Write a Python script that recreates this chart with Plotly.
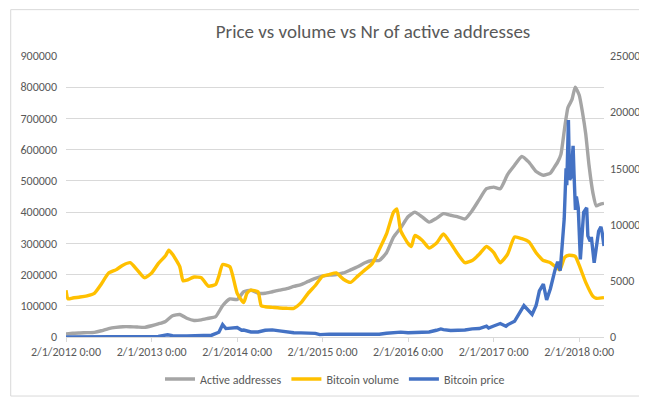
import plotly.graph_objects as go

# ---------------- data ----------------
addr_dates = [
    "2012-02-01", "2012-03-01", "2012-04-01", "2012-05-01", "2012-06-01", "2012-07-01",
    "2012-08-01", "2012-09-01", "2012-10-01", "2012-11-01", "2012-12-01", "2013-01-01",
    "2013-02-01", "2013-03-01", "2013-04-01", "2013-05-01", "2013-06-01", "2013-07-01",
    "2013-08-01", "2013-09-01", "2013-10-01", "2013-11-01", "2013-12-01", "2014-01-01",
    "2014-02-01", "2014-03-01", "2014-04-01", "2014-05-01", "2014-06-01", "2014-07-01",
    "2014-08-01", "2014-09-01", "2014-10-01", "2014-11-01", "2014-12-01", "2015-01-01",
    "2015-02-01", "2015-03-01", "2015-04-01", "2015-05-01", "2015-06-01", "2015-07-01",
    "2015-08-01", "2015-09-01", "2015-10-01", "2015-11-01", "2015-12-01", "2016-01-01",
    "2016-02-01", "2016-03-01", "2016-04-01", "2016-05-01", "2016-06-01", "2016-07-01",
    "2016-08-01", "2016-09-01", "2016-10-01", "2016-11-01", "2016-12-01", "2017-01-01",
    "2017-02-01", "2017-03-01", "2017-04-01", "2017-05-01", "2017-06-01", "2017-07-01",
    "2017-08-01", "2017-09-01", "2017-10-01", "2017-10-15", "2017-11-01", "2017-11-15",
    "2017-12-01", "2017-12-15", "2018-01-01", "2018-01-15", "2018-02-01", "2018-02-15",
    "2018-03-01", "2018-03-15", "2018-04-01", "2018-04-15", "2018-05-01", "2018-05-18",
]
active_addresses = [
    10000, 12000, 13000, 14000, 15000, 20000,
    27000, 31000, 33000, 33000, 32000, 31000,
    36000, 42000, 50000, 68000, 72000, 60000,
    53000, 55000, 60000, 65000, 100000, 122000,
    120000, 145000, 150000, 140000, 140000, 145000,
    150000, 155000, 162000, 168000, 178000, 188000,
    195000, 198000, 200000, 205000, 215000, 225000,
    238000, 245000, 245000, 270000, 320000, 350000,
    385000, 400000, 385000, 368000, 380000, 395000,
    390000, 385000, 378000, 405000, 440000, 475000,
    480000, 475000, 520000, 550000, 578000, 560000,
    530000, 518000, 525000, 540000, 560000, 585000,
    670000, 735000, 760000, 800000, 775000, 720000,
    650000, 550000, 460000, 420000, 425000, 428000,
]

vol_dates = [
    "2012-02-01", "2012-02-10", "2012-03-01", "2012-04-01", "2012-05-01", "2012-06-01",
    "2012-07-01", "2012-08-01", "2012-09-01", "2012-10-01", "2012-11-01", "2012-12-01",
    "2013-01-01", "2013-02-01", "2013-03-01", "2013-04-01", "2013-04-15", "2013-05-01",
    "2013-06-01", "2013-06-15", "2013-07-01", "2013-08-01", "2013-09-01", "2013-10-01",
    "2013-11-01", "2013-11-15", "2013-12-01", "2014-01-01", "2014-02-01", "2014-03-01",
    "2014-03-15", "2014-04-01", "2014-05-01", "2014-05-15", "2014-06-01", "2014-07-01",
    "2014-08-01", "2014-09-01", "2014-10-01", "2014-11-01", "2014-12-01", "2015-01-01",
    "2015-02-01", "2015-03-01", "2015-04-01", "2015-05-01", "2015-06-01", "2015-07-01",
    "2015-08-01", "2015-09-01", "2015-10-01", "2015-11-01", "2015-12-01", "2015-12-15",
    "2016-01-01", "2016-02-01", "2016-02-15", "2016-03-01", "2016-04-01", "2016-05-01",
    "2016-06-01", "2016-07-01", "2016-08-01", "2016-09-01", "2016-10-01", "2016-11-01",
    "2016-12-01", "2017-01-01", "2017-02-01", "2017-03-01", "2017-04-01", "2017-05-01",
    "2017-06-01", "2017-07-01", "2017-08-01", "2017-09-01", "2017-10-01", "2017-11-10",
    "2017-12-01", "2017-12-20", "2018-01-15", "2018-02-01", "2018-03-01", "2018-04-01",
    "2018-04-15", "2018-05-18",
]
bitcoin_volume = [
    150000, 122000, 125000, 128000, 132000, 140000,
    170000, 205000, 215000, 230000, 238000, 215000,
    190000, 205000, 235000, 260000, 278000, 265000,
    225000, 180000, 182000, 192000, 190000, 163000,
    168000, 195000, 232000, 225000, 140000, 110000,
    140000, 150000, 145000, 100000, 97000, 95000,
    93000, 92000, 92000, 110000, 140000, 165000,
    195000, 200000, 205000, 185000, 175000, 195000,
    215000, 235000, 280000, 330000, 400000, 410000,
    340000, 300000, 290000, 325000, 310000, 285000,
    300000, 330000, 300000, 265000, 238000, 245000,
    265000, 290000, 270000, 238000, 265000, 320000,
    315000, 305000, 270000, 245000, 238000, 215000,
    255000, 262000, 258000, 230000, 175000, 130000,
    124000, 126000,
]

price_dates = [
    "2012-02-01", "2012-06-01", "2012-09-01", "2012-12-01", "2013-02-01", "2013-03-01",
    "2013-04-10", "2013-05-01", "2013-07-01", "2013-09-01", "2013-10-15", "2013-11-15",
    "2013-12-01", "2013-12-15", "2014-01-01", "2014-02-01", "2014-02-20", "2014-03-01",
    "2014-04-01", "2014-05-01", "2014-06-01", "2014-07-01", "2014-08-01", "2014-09-01",
    "2014-10-01", "2014-11-01", "2014-12-01", "2015-01-01", "2015-01-20", "2015-02-01",
    "2015-03-01", "2015-04-01", "2015-05-01", "2015-06-01", "2015-07-01", "2015-08-01",
    "2015-09-01", "2015-10-01", "2015-11-01", "2015-12-01", "2016-01-01", "2016-02-01",
    "2016-03-01", "2016-04-01", "2016-05-01", "2016-06-01", "2016-06-20", "2016-07-01",
    "2016-08-01", "2016-09-01", "2016-10-01", "2016-11-01", "2016-12-01", "2017-01-01",
    "2017-01-10", "2017-02-01", "2017-03-01", "2017-03-25", "2017-04-01", "2017-05-01",
    "2017-05-25", "2017-06-10", "2017-07-15", "2017-08-01", "2017-08-15", "2017-09-01",
    "2017-09-15", "2017-10-01", "2017-10-20", "2017-11-01", "2017-11-12", "2017-11-20",
    "2017-11-29", "2017-12-07", "2017-12-10", "2017-12-17", "2017-12-22", "2017-12-28",
    "2018-01-06", "2018-01-10", "2018-01-16", "2018-01-20", "2018-01-28", "2018-02-06",
    "2018-02-10", "2018-02-20", "2018-03-05", "2018-03-10", "2018-03-20", "2018-03-25",
    "2018-04-06", "2018-04-15", "2018-04-25", "2018-05-05", "2018-05-10", "2018-05-18",
]
bitcoin_price = [
    6, 6, 11, 13, 20, 60,
    200, 120, 90, 130, 160, 420,
    1100, 750, 780, 850, 600, 620,
    450, 450, 600, 630, 550, 450,
    380, 370, 330, 320, 210, 230,
    260, 240, 235, 240, 280, 260,
    235, 240, 330, 380, 430, 380,
    420, 420, 450, 600, 720, 660,
    580, 600, 620, 720, 750, 970,
    800, 980, 1200, 950, 1080, 1400,
    2300, 2800, 2000, 2800, 4100, 4700,
    3300, 4300, 5900, 6700, 5900, 8000,
    10500, 15000, 13500, 19300, 14000, 14200,
    17000, 14500, 11300, 12500, 11500, 6900,
    8300, 11100, 11500, 9000, 8500, 8900,
    6600, 8000, 9400, 9800, 9300, 8100,
]

tick_dates = ["2012-02-01", "2013-02-01", "2014-02-01", "2015-02-01",
              "2016-02-01", "2017-02-01", "2018-02-01"]
tick_labels = ["2/1/2012 0:00", "2/1/2013 0:00", "2/1/2014 0:00", "2/1/2015 0:00",
               "2/1/2016 0:00", "2/1/2017 0:00", "2/1/2018 0:00"]

# ---------------- figure ----------------
FONT = "Carlito, Lato, sans-serif"
TXT = "#595959"
GRID = "#D9D9D9"

fig = go.Figure()
fig.add_trace(go.Scatter(x=addr_dates, y=active_addresses, name="Active addresses",
                         mode="lines", line=dict(color="#A5A5A5", width=3.4, shape="spline", smoothing=0.5)))
fig.add_trace(go.Scatter(x=vol_dates, y=bitcoin_volume, name="Bitcoin volume",
                         mode="lines", line=dict(color="#FFC000", width=3.4, shape="spline", smoothing=0.5)))
fig.add_trace(go.Scatter(x=price_dates, y=bitcoin_price, name="Bitcoin price", yaxis="y2",
                         mode="lines", line=dict(color="#4472C4", width=3.4)))

L, R, T, B = 56, 51, 48, 62
W, H = 647, 398
pw, ph = W - L - R, H - T - B

fig.update_layout(
    width=W, height=H,
    margin=dict(l=L, r=R, t=T, b=B),
    paper_bgcolor="white", plot_bgcolor="white",
    font=dict(family=FONT, size=12, color=TXT),
    title=dict(text="Price vs volume vs Nr of active addresses",
               x=365 / W, xanchor="center", xref="container",
               y=1 - 23 / H, yanchor="middle", yref="container",
               font=dict(family=FONT, size=19, color=TXT)),
    xaxis=dict(type="date", range=["2012-02-01", "2018-05-18"],
               tickvals=tick_dates, ticktext=tick_labels,
               showgrid=False, showline=True, linecolor=GRID, linewidth=1,
               ticks="outside", ticklen=4, tickcolor=GRID,
               tickfont=dict(size=12, color=TXT), zeroline=False),
    yaxis=dict(range=[0, 900000], dtick=100000, tickformat="d",
               showgrid=True, gridcolor=GRID, gridwidth=1, zeroline=False,
               showline=False, ticklabelstandoff=8,
               tickfont=dict(size=12, color=TXT)),
    yaxis2=dict(range=[0, 25000], dtick=5000, tickformat="d", overlaying="y", side="right",
                showgrid=False, zeroline=False, showline=False, ticklabelstandoff=5,
                tickfont=dict(size=12, color=TXT)),
    legend=dict(orientation="h", x=0.5, xanchor="center",
                y=-(379 - (T + ph)) / ph, yanchor="middle",
                font=dict(size=12, color=TXT), bgcolor="rgba(0,0,0,0)"),
    showlegend=True,
)

# chart-area border
fig.add_shape(type="rect", xref="paper", yref="paper",
              x0=(0.5 - L) / pw, x1=(W - 1.5 - L) / pw,
              y0=(T + ph - (H - 1.5)) / ph, y1=(T + ph - 0.5) / ph,
              line=dict(color=GRID, width=1), fillcolor="rgba(0,0,0,0)", layer="below")

fig.write_html("out.html")
